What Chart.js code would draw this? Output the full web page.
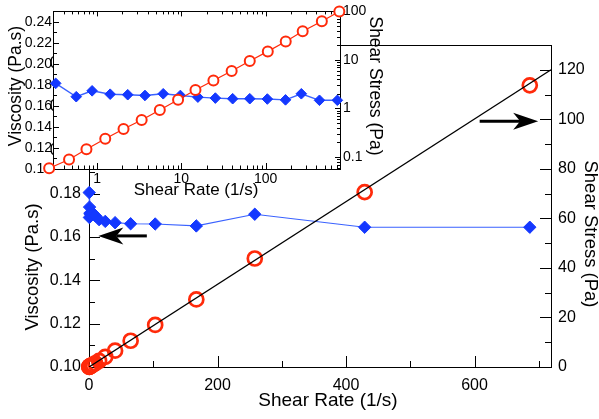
<!DOCTYPE html>
<html>
<head>
<meta charset="utf-8">
<script src="https://cdn.jsdelivr.net/npm/chart.js@4.4.1/dist/chart.umd.min.js"></script>
<style>
  html, body { margin:0; padding:0; background:#fff; }
  #wrap { position:relative; width:599px; height:419px; }
  canvas { position:absolute; left:0; top:0; }
</style>
</head>
<body>
<div id="wrap">
  <canvas id="main" width="599" height="419"></canvas>
  <canvas id="inset" width="599" height="419"></canvas>
</div>
<script>
// ---------- Main (linear) chart data ----------
const mainRate      = [0.32, 0.57, 0.87, 1.43, 2.31, 3.70, 6.09, 9.73, 15.7, 25.3, 40.6, 64.8, 103, 167, 258, 429, 686];
const mainViscosity = [0.1805, 0.1690, 0.1738, 0.1710, 0.1705, 0.1700, 0.1710, 0.1698, 0.1680, 0.1672, 0.1666, 0.1661, 0.1660, 0.1651, 0.1705, 0.1645, 0.1645];
const mainStress    = [0.06, 0.09, 0.14, 0.24, 0.38, 0.60, 0.95, 1.5, 2.5, 4.1, 6.6, 10.6, 17.0, 27.3, 43.8, 70.6, 113.7];
const fitRate       = [0, 719];
const fitStress     = [0, 120];
const mainXTicks    = [0, 200, 400, 600];
const mainViscTicks = [0.10, 0.12, 0.14, 0.16, 0.18, 0.20, 0.22, 0.24];
const mainStressTicks = [0, 20, 40, 60, 80, 100, 120];
// arrows in data units: [rate, value]
const arrowVisc   = [[90, 0.1605], [14.5, 0.1605]];
const arrowStress = [[608, 99.2], [699, 99.2]];

// ---------- Inset (log x) chart data ----------
const insetRateStress = [0.270, 0.465, 0.748, 1.25, 2.06, 3.38, 5.55, 9.14, 14.7, 24.0, 39.5, 64.8, 106, 173, 275, 464, 748];
const insetStress     = [0.0586, 0.089, 0.144, 0.237, 0.377, 0.581, 0.933, 1.51, 2.41, 3.78, 5.93, 9.47, 15.0, 23.9, 39.0, 62.8, 100];
const insetRateVisc   = [0.323, 0.566, 0.873, 1.43, 2.31, 3.70, 6.09, 9.73, 15.7, 25.3, 40.6, 64.8, 104.7, 172, 265, 435, 709];
const insetViscosity  = [0.1815, 0.1688, 0.1744, 0.1712, 0.1707, 0.1700, 0.1716, 0.1700, 0.1684, 0.1675, 0.1669, 0.1669, 0.1666, 0.1658, 0.1716, 0.1654, 0.1654];
const insetXTicks     = [1, 10, 100];
const insetViscTicks  = [0.10, 0.12, 0.14, 0.16, 0.18, 0.20, 0.22, 0.24];
const insetStressTicks = [0.1, 1, 10, 100];

const RED = '#ff2a0a';
const BLUE = '#1438ff';
const BLUE_LINE = '#3a62ff';
const FONT = "'Liberation Sans', Arial, Helvetica, sans-serif";

function pts(xs, ys) { return xs.map((x, i) => ({ x: x, y: ys[i] })); }
function crisp(v) { return Math.round(v) + 0.5; }

function drawTickSet(ctx, scale, area, values, len, side) {
  ctx.beginPath();
  values.forEach(v => {
    const p = crisp(scale.getPixelForValue(v));
    if (side === 'bottom') { ctx.moveTo(p, area.bottom); ctx.lineTo(p, area.bottom - len); }
    else if (side === 'top') { ctx.moveTo(p, area.top); ctx.lineTo(p, area.top + len); }
    else if (side === 'left') { ctx.moveTo(area.left, p); ctx.lineTo(area.left + len, p); }
    else { ctx.moveTo(area.right, p); ctx.lineTo(area.right - len, p); }
  });
  ctx.stroke();
}
function range(a, b, s) { const out = []; for (let v = a; v <= b + 1e-9; v += s) out.push(+v.toFixed(6)); return out; }
function logMinors(min, max) {
  const out = [];
  for (let d = -3; d <= 4; d++) for (let k = 2; k <= 9; k++) { const v = k * Math.pow(10, d); if (v >= min && v <= max) out.push(v); }
  return out;
}
function logMajors(min, max) {
  const out = [];
  for (let d = -3; d <= 4; d++) { const v = Math.pow(10, d); if (v >= min * 0.999 && v <= max * 1.001) out.push(v); }
  return out;
}
function frame(ctx, a) {
  ctx.strokeStyle = '#000'; ctx.lineWidth = 1;
  ctx.strokeRect(crisp(a.left), crisp(a.top), Math.round(a.right) - Math.round(a.left), Math.round(a.bottom) - Math.round(a.top));
}
function text(ctx, str, x, y, size, rot) {
  ctx.save();
  ctx.translate(x, y); ctx.rotate(rot);
  ctx.font = size + 'px ' + FONT; ctx.fillStyle = '#000';
  ctx.textAlign = 'center'; ctx.textBaseline = 'middle';
  ctx.fillText(str, 0, 0);
  ctx.restore();
}
function arrow(ctx, x1, y1, x2, y2) {
  const dir = Math.sign(x2 - x1);
  const headLen = 25, half = 8.5, notch = 7;
  ctx.save();
  ctx.strokeStyle = '#000'; ctx.fillStyle = '#000'; ctx.lineWidth = 3;
  ctx.beginPath(); ctx.moveTo(x1, y1); ctx.lineTo(x2 - dir * (headLen - notch), y2); ctx.stroke();
  ctx.beginPath();
  ctx.moveTo(x2, y2);
  ctx.lineTo(x2 - dir * headLen, y2 - half);
  ctx.lineTo(x2 - dir * (headLen - notch), y2);
  ctx.lineTo(x2 - dir * headLen, y2 + half);
  ctx.closePath(); ctx.fill();
  ctx.restore();
}

const mainPlugin = {
  id: 'mainDecor',
  beforeDatasetsDraw(chart) {
    const ctx = chart.ctx, a = chart.chartArea, s = chart.scales;
    ctx.save();
    frame(ctx, a);
    ctx.lineWidth = 1; ctx.strokeStyle = '#000';
    drawTickSet(ctx, s.x, a, mainXTicks, 11, 'bottom');
    drawTickSet(ctx, s.x, a, [100, 300, 500, 700], 6, 'bottom');
    drawTickSet(ctx, s.yL, a, mainViscTicks, 11, 'left');
    drawTickSet(ctx, s.yL, a, range(0.11, 0.24, 0.02), 6, 'left');
    drawTickSet(ctx, s.yR, a, mainStressTicks, 11, 'right');
    drawTickSet(ctx, s.yR, a, range(10, 130, 20), 6, 'right');
    ctx.restore();
  },
  afterDraw(chart) {
    const ctx = chart.ctx, s = chart.scales;
    arrow(ctx, s.x.getPixelForValue(arrowVisc[0][0]), s.yL.getPixelForValue(arrowVisc[0][1]),
               s.x.getPixelForValue(arrowVisc[1][0]), s.yL.getPixelForValue(arrowVisc[1][1]));
    arrow(ctx, s.x.getPixelForValue(arrowStress[0][0]), s.yR.getPixelForValue(arrowStress[0][1]),
               s.x.getPixelForValue(arrowStress[1][0]), s.yR.getPixelForValue(arrowStress[1][1]));
    text(ctx, 'Shear Rate (1/s)', 328, 401, 19, 0);
    text(ctx, 'Viscosity (Pa.s)', 33, 267, 18.5, -Math.PI / 2);
    text(ctx, 'Shear Stress (Pa)', 590, 234, 18.5, Math.PI / 2);
  }
};

new Chart(document.getElementById('main'), {
  type: 'scatter',
  data: {
    datasets: [
      { data: pts(fitRate, fitStress), yAxisID: 'yR', showLine: true, borderColor: '#000', borderWidth: 1.3,
        pointRadius: 0, fill: false },
      { data: pts(mainRate, mainStress), yAxisID: 'yR', showLine: false, pointStyle: 'circle', pointRadius: 7,
        borderWidth: 2.7, borderColor: RED, backgroundColor: 'rgba(0,0,0,0)', clip: false },
      { data: pts(mainRate, mainViscosity), yAxisID: 'yL', showLine: true, borderColor: BLUE_LINE, borderWidth: 1.2,
        pointStyle: 'rectRot', pointRadius: 6.2, pointBorderWidth: 1, pointBackgroundColor: BLUE, pointBorderColor: BLUE,
        fill: false, clip: false }
    ]
  },
  options: {
    responsive: false, animation: false, events: [],
    layout: { padding: { top: 45, left: 0, right: 0, bottom: 0 } },
    plugins: { legend: { display: false }, tooltip: { enabled: false } },
    scales: {
      x: { type: 'linear', position: 'bottom', min: 0, max: 719,
        grid: { display: false, drawTicks: false }, border: { display: false },
        afterBuildTicks: sc => { sc.ticks = mainXTicks.map(v => ({ value: v })); },
        ticks: { padding: 9, color: '#000', font: { family: FONT, size: 16 }, maxRotation: 0, callback: v => String(v) },
        afterFit: sc => { sc.height = 52; } },
      yL: { type: 'linear', position: 'left', min: 0.1, max: 0.2486,
        grid: { display: false, drawTicks: false }, border: { display: false },
        afterBuildTicks: sc => { sc.ticks = mainViscTicks.map(v => ({ value: v })); },
        ticks: { padding: 8, color: '#000', font: { family: FONT, size: 16 }, callback: v => Number(v).toFixed(2) },
        afterFit: sc => { sc.width = 89; } },
      yR: { type: 'linear', position: 'right', min: 0, max: 130,
        grid: { display: false, drawTicks: false }, border: { display: false },
        afterBuildTicks: sc => { sc.ticks = mainStressTicks.map(v => ({ value: v })); },
        ticks: { padding: 7, color: '#000', font: { family: FONT, size: 16 }, callback: v => String(v) },
        afterFit: sc => { sc.width = 48; } }
    }
  },
  plugins: [mainPlugin]
});

// ---------- Inset ----------
const IX_MIN = 0.3232, IX_MAX = 762, IS_MIN = 0.0567, IS_MAX = 100;
const insetPlugin = {
  id: 'insetDecor',
  beforeDraw(chart) {
    const ctx = chart.ctx, a = chart.chartArea;
    ctx.save(); ctx.fillStyle = '#fff';
    ctx.fillRect(a.left, a.top, a.right - a.left, a.bottom - a.top);
    ctx.restore();
  },
  beforeDatasetsDraw(chart) {
    const ctx = chart.ctx, a = chart.chartArea, s = chart.scales;
    ctx.save();
    frame(ctx, a);
    ctx.lineWidth = 1; ctx.strokeStyle = '#000';
    drawTickSet(ctx, s.x, a, logMajors(IX_MIN, IX_MAX), 6, 'bottom');
    drawTickSet(ctx, s.x, a, logMinors(IX_MIN, IX_MAX), 3.5, 'bottom');
    drawTickSet(ctx, s.x, a, logMajors(IX_MIN, IX_MAX), 5, 'top');
    drawTickSet(ctx, s.x, a, logMinors(IX_MIN, IX_MAX), 3, 'top');
    drawTickSet(ctx, s.yL, a, insetViscTicks, 6, 'left');
    drawTickSet(ctx, s.yL, a, range(0.11, 0.25, 0.02), 4, 'left');
    drawTickSet(ctx, s.yR, a, logMajors(IS_MIN, IS_MAX), 5, 'right');
    drawTickSet(ctx, s.yR, a, logMinors(IS_MIN, IS_MAX), 3, 'right');
    ctx.restore();
  },
  afterDraw(chart) {
    const ctx = chart.ctx;
    text(ctx, 'Shear Rate (1/s)', 196, 190, 17, 0);
    text(ctx, 'Viscosity (Pa.s)', 16, 86, 17.5, -Math.PI / 2);
    text(ctx, 'Shear Stress (Pa)', 375, 86, 17.5, Math.PI / 2);
  }
};

new Chart(document.getElementById('inset'), {
  type: 'scatter',
  data: {
    datasets: [
      { data: pts(insetRateStress, insetStress), yAxisID: 'yR', showLine: true, borderColor: RED,
        pointStyle: 'circle', pointRadius: 5, borderWidth: 1.2, pointBorderWidth: 2, pointBorderColor: RED,
        pointBackgroundColor: '#fff', fill: false, clip: false },
      { data: pts(insetRateVisc, insetViscosity), yAxisID: 'yL', showLine: true, borderColor: BLUE_LINE, borderWidth: 1.4,
        pointStyle: 'rectRot', pointRadius: 5.3, pointBorderWidth: 1, pointBackgroundColor: BLUE, pointBorderColor: BLUE,
        fill: false, clip: false }
    ]
  },
  options: {
    responsive: false, animation: false, events: [],
    layout: { padding: { top: 8, left: 0, right: 0, bottom: 0 } },
    plugins: { legend: { display: false }, tooltip: { enabled: false } },
    scales: {
      x: { type: 'logarithmic', position: 'bottom', min: IX_MIN, max: IX_MAX,
        grid: { display: false, drawTicks: false }, border: { display: false },
        afterBuildTicks: sc => { sc.ticks = insetXTicks.map(v => ({ value: v })); },
        ticks: { padding: 2, color: '#000', font: { family: FONT, size: 14 }, maxRotation: 0, autoSkip: false, callback: v => String(v) },
        afterFit: sc => { sc.height = 250; } },
      yL: { type: 'linear', position: 'left', min: 0.1, max: 0.25,
        grid: { display: false, drawTicks: false }, border: { display: false },
        afterBuildTicks: sc => { sc.ticks = insetViscTicks.map(v => ({ value: v })); },
        ticks: { padding: 1, color: '#000', font: { family: FONT, size: 14 }, callback: v => Number(v).toFixed(2) },
        afterFit: sc => { sc.width = 53; } },
      yR: { type: 'logarithmic', position: 'right', min: IS_MIN, max: IS_MAX,
        grid: { display: false, drawTicks: false }, border: { display: false },
        afterBuildTicks: sc => { sc.ticks = insetStressTicks.map(v => ({ value: v })); },
        ticks: { padding: 3, color: '#000', font: { family: FONT, size: 14 }, autoSkip: false, callback: v => String(v) },
        afterFit: sc => { sc.width = 259; } }
    }
  },
  plugins: [insetPlugin]
});
</script>
</body>
</html>
